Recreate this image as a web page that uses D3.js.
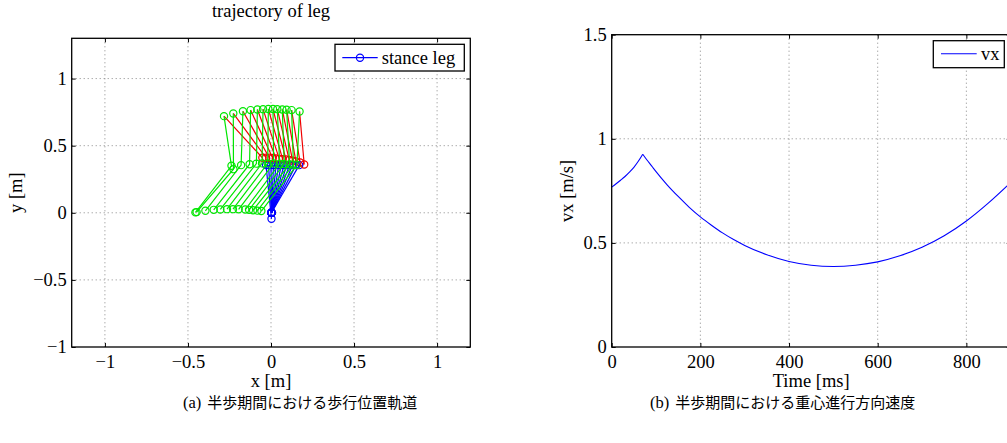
<!DOCTYPE html>
<html>
<head>
<meta charset="utf-8">
<script src="https://cdn.jsdelivr.net/npm/d3@7"></script>
<style>
  html, body { margin: 0; padding: 0; background: #fff; }
  svg { display: block; }
  text { font-family: "Liberation Serif", "Times New Roman", serif; fill: #000; }
  .cap { font-family: "Liberation Serif", "Noto Sans CJK JP", serif; }
</style>
</head>
<body>
<script>
// ---- (a) leg trajectory: one stick pose per sample frame ----
const topX   = [-0.283, -0.227, -0.169, -0.123, -0.082, -0.048, -0.016, 0.012, 0.038, 0.068, 0.094, 0.124, 0.172];
const topY   = [0.720, 0.740, 0.756, 0.765, 0.770, 0.772, 0.773, 0.773, 0.772, 0.770, 0.768, 0.765, 0.755];
const midX   = [-0.238, -0.226, -0.180, -0.129, -0.088, -0.054, -0.020, 0.016, 0.052, 0.080, 0.112, 0.135, 0.156];
const midY   = [0.350, 0.325, 0.355, 0.362, 0.366, 0.368, 0.368, 0.368, 0.366, 0.364, 0.362, 0.359, 0.356];
const footX  = [-0.455, -0.448, -0.395, -0.345, -0.305, -0.265, -0.229, -0.195, -0.155, -0.132, -0.108, -0.082, -0.058];
const footY  = [0.003, 0.005, 0.015, 0.022, 0.025, 0.027, 0.027, 0.026, 0.024, 0.022, 0.019, 0.016, 0.013];
const hipX   = [-0.052, -0.030, -0.010, 0.010, 0.030, 0.050, 0.070, 0.090, 0.110, 0.130, 0.150, 0.175, 0.200];
const hipY   = [0.410, 0.410, 0.410, 0.408, 0.405, 0.402, 0.400, 0.397, 0.393, 0.388, 0.383, 0.375, 0.360];
const stanceFootX = [0.003, 0.003, 0.003, 0.003, 0.003, 0.003, 0.003, 0.003, 0.003, 0.003, 0.003, 0.003, 0.003];
const stanceFootY = [-0.045, 0, 0, 0, 0, 0, 0, 0, 0, 0, 0, 0, 0];
const stanceTopX  = [-0.030, -0.015, 0.000, 0.015, 0.030, 0.046, 0.062, 0.078, 0.095, 0.112, 0.130, 0.150, 0.170];
const stanceTopY  = [0.355, 0.355, 0.355, 0.355, 0.355, 0.355, 0.355, 0.355, 0.355, 0.355, 0.355, 0.355, 0.355];

const legTicksX = [-1, -0.5, 0, 0.5, 1];
const legTicksY = [-1, -0.5, 0, 0.5, 1];

// ---- (b) forward velocity of the centre of mass ----
const timeMs = [0, 10, 20, 30, 40, 50, 60, 70, 80, 90, 100, 125, 150, 175, 200, 225, 250, 275, 300,
                350, 400, 450, 500, 550, 600, 650, 700, 750, 800, 850, 900];
const vx     = [0.768, 0.784, 0.801, 0.819, 0.840, 0.863, 0.892, 0.926, 0.897, 0.870, 0.842, 0.779, 0.723,
                0.671, 0.625, 0.585, 0.548, 0.516, 0.488, 0.443, 0.411, 0.393, 0.387, 0.393, 0.409, 0.438,
                0.479, 0.534, 0.605, 0.692, 0.790];
const velTicksX = [0, 200, 400, 600, 800];
const velTicksY = [0, 0.5, 1, 1.5];

const FONT = 18.5;
const fmt = d => String(d).replace("-", "\u2212");

const svg = d3.select("body").append("svg")
  .attr("width", 1007).attr("height", 443);
svg.append("rect").attr("width", 1007).attr("height", 443).attr("fill", "#fff");

function drawGrid(box, x, y, ticksX, ticksY) {
  const g = svg.append("g");
  g.selectAll(null).data(ticksX).enter().append("line")
    .attr("x1", d => x(d)).attr("x2", d => x(d))
    .attr("y1", box.top).attr("y2", box.bottom)
    .attr("stroke", "#888").attr("stroke-width", 1).attr("stroke-dasharray", "1,3");
  g.selectAll(null).data(ticksY).enter().append("line")
    .attr("y1", d => y(d)).attr("y2", d => y(d))
    .attr("x1", box.left).attr("x2", box.right)
    .attr("stroke", "#888").attr("stroke-width", 1).attr("stroke-dasharray", "1,3");
}

function drawFrame(box, x, y, ticksX, ticksY) {
  const g = svg.append("g");
  const style = a => a.call(s => s.select(".domain").remove())
    .call(s => s.selectAll("line").attr("stroke", "#000").attr("stroke-width", 1))
    .call(s => s.selectAll("text").attr("font-size", FONT).attr("font-family", "Liberation Serif").attr("fill", "#000"));
  g.append("g").attr("transform", `translate(0,${box.bottom})`)
    .call(d3.axisBottom(x).tickValues(ticksX).tickFormat(fmt).tickSize(-4).tickPadding(7.8)).call(style);
  g.append("g").attr("transform", `translate(0,${box.top})`)
    .call(d3.axisTop(x).tickValues(ticksX).tickFormat("").tickSize(-4)).call(style);
  g.append("g").attr("transform", `translate(${box.left},0)`)
    .call(d3.axisLeft(y).tickValues(ticksY).tickFormat(fmt).tickSize(-4).tickPadding(5)).call(style);
  g.append("g").attr("transform", `translate(${box.right},0)`)
    .call(d3.axisRight(y).tickValues(ticksY).tickFormat("").tickSize(-4)).call(style);
  g.append("rect")
    .attr("x", box.left).attr("y", box.top)
    .attr("width", box.right - box.left).attr("height", box.bottom - box.top)
    .attr("fill", "none").attr("stroke", "#000").attr("stroke-width", 1.3);
}

// ================= panel (a) =================
const A = { left: 71.7, right: 470.3, top: 38.3, bottom: 347 };
const xA = d3.scaleLinear().domain([-1.2, 1.2]).range([A.left, A.right]);
const yA = d3.scaleLinear().domain([-1, 1.3]).range([A.bottom, A.top]);
drawGrid(A, xA, yA, legTicksX, legTicksY.slice(1));

const BLUE = "#0000ff", GREEN = "#00e600", RED = "#f00000";
const R_MARK = 3.6;
const plotA = svg.append("g");
const lineA = d3.line().x(p => xA(p[0])).y(p => yA(p[1]));
function polyline(g, pts, color) {
  g.append("path").attr("d", lineA(pts))
    .attr("fill", "none").attr("stroke", color).attr("stroke-width", 1.2);
}
function markers(g, pts, color) {
  pts.forEach(p => g.append("circle")
    .attr("cx", xA(p[0])).attr("cy", yA(p[1])).attr("r", R_MARK)
    .attr("fill", "none").attr("stroke", color).attr("stroke-width", 1.2));
}
topX.forEach((_, i) => {
  const g = plotA.append("g");
  const stance = [[stanceFootX[i], stanceFootY[i]], [stanceTopX[i], stanceTopY[i]]];
  const swing = [[footX[i], footY[i]], [midX[i], midY[i]], [topX[i], topY[i]]];
  const body = [[topX[i], topY[i]], [hipX[i], hipY[i]]];
  polyline(g, stance, BLUE); markers(g, stance, BLUE);
  polyline(g, body, RED);
  polyline(g, swing, GREEN); markers(g, swing, GREEN);
  markers(g, [body[1]], RED);
});

drawFrame(A, xA, yA, legTicksX, legTicksY);

// title and labels
svg.append("text").attr("x", (A.left + A.right) / 2).attr("y", 17)
  .attr("text-anchor", "middle").attr("font-size", FONT).text("trajectory of leg");
svg.append("text").attr("x", (A.left + A.right) / 2).attr("y", 386.5)
  .attr("text-anchor", "middle").attr("font-size", FONT).text("x [m]");
svg.append("text").attr("transform", `translate(22,${(A.top + A.bottom) / 2}) rotate(-90)`)
  .attr("text-anchor", "middle").attr("font-size", FONT).text("y [m]");

// legend
const legA = svg.append("g");
legA.append("rect").attr("x", 335).attr("y", 44.3).attr("width", 129.3).attr("height", 26.7)
  .attr("fill", "#fff").attr("stroke", "#000").attr("stroke-width", 1.3);
legA.append("line").attr("x1", 342.3).attr("x2", 377.7).attr("y1", 57.7).attr("y2", 57.7)
  .attr("stroke", BLUE).attr("stroke-width", 1.2);
legA.append("circle").attr("cx", 360).attr("cy", 57.7).attr("r", R_MARK)
  .attr("fill", "none").attr("stroke", BLUE).attr("stroke-width", 1.2);
legA.append("text").attr("x", 381.7).attr("y", 64).attr("font-size", FONT).text("stance leg");

// ================= panel (b) =================
const B = { left: 611.7, right: 1010.7, top: 34.7, bottom: 347 };
const xB = d3.scaleLinear().domain([0, 900]).range([B.left, B.right]);
const yB = d3.scaleLinear().domain([0, 1.5]).range([B.bottom, B.top]);
drawGrid(B, xB, yB, velTicksX.slice(1), velTicksY.slice(1, 3));

const series = timeMs.map((t, i) => [t, vx[i]]);
const peak = d3.maxIndex(vx);
const vLine = d3.line().x(d => xB(d[0])).y(d => yB(d[1])).curve(d3.curveMonotoneX);
[series.slice(0, peak + 1), series.slice(peak)].forEach(part =>
  svg.append("path").attr("d", vLine(part))
    .attr("fill", "none").attr("stroke", BLUE).attr("stroke-width", 1.1));

drawFrame(B, xB, yB, velTicksX, velTicksY);

svg.append("text").attr("x", (B.left + B.right) / 2).attr("y", 386.5)
  .attr("text-anchor", "middle").attr("font-size", FONT).text("Time [ms]");
svg.append("text").attr("transform", `translate(572.7,${(B.top + B.bottom) / 2}) rotate(-90)`)
  .attr("text-anchor", "middle").attr("font-size", FONT).text("vx [m/s]");

const legB = svg.append("g");
legB.append("rect").attr("x", 933.3).attr("y", 40.7).attr("width", 71).attr("height", 27)
  .attr("fill", "#fff").attr("stroke", "#000").attr("stroke-width", 1.3);
legB.append("line").attr("x1", 941).attr("x2", 976.7).attr("y1", 53.7).attr("y2", 53.7)
  .attr("stroke", BLUE).attr("stroke-width", 1.1);
legB.append("text").attr("x", 981).attr("y", 60).attr("font-size", FONT).text("vx");

// ================= captions =================
function caption(x, tag, body) {
  const t = svg.append("text").attr("class", "cap").attr("x", x).attr("y", 408);
  t.append("tspan").attr("font-size", 16.5).text(tag);
  t.append("tspan").attr("dx", 6).attr("font-size", 15).text(body);
}
caption(183, "(a)", "半歩期間における歩行位置軌道");
caption(650, "(b)", "半歩期間における重心進行方向速度");
</script>
</body>
</html>
